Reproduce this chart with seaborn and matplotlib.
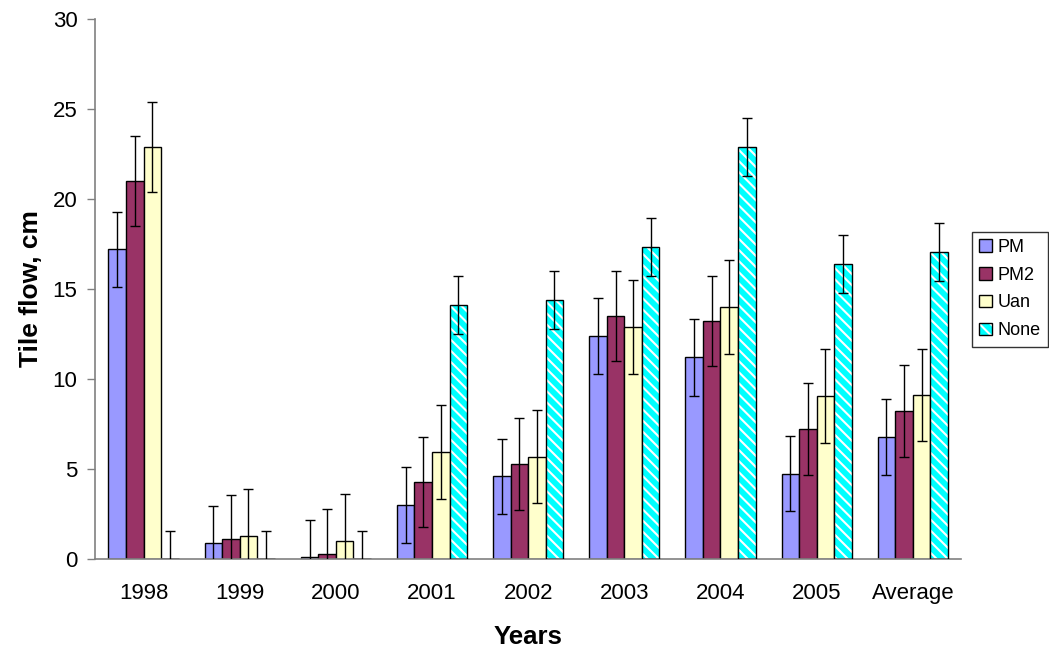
import numpy as np
import pandas as pd
import seaborn as sns
import matplotlib.pyplot as plt
from matplotlib.patches import Rectangle

years = ["1998", "1999", "2000", "2001", "2002", "2003", "2004", "2005", "Average"]
treatments = ["PM", "PM2", "Uan", "None"]

pm = [17.2, 0.9, 0.1, 3.0, 4.6, 12.4, 11.2, 4.75, 6.8]
pm2 = [21.0, 1.1, 0.3, 4.3, 5.3, 13.5, 13.2, 7.25, 8.25]
uan = [22.9, 1.3, 1.0, 5.95, 5.7, 12.9, 14.0, 9.05, 9.1]
none = [0.0, 0.0, 0.0, 14.1, 14.4, 17.35, 22.9, 16.4, 17.05]

pm_err = [2.1, 2.05, 2.1, 2.1, 2.1, 2.1, 2.15, 2.1, 2.1]
pm2_err = [2.5, 2.45, 2.5, 2.5, 2.55, 2.5, 2.5, 2.55, 2.55]
uan_err = [2.5, 2.6, 2.6, 2.6, 2.6, 2.6, 2.6, 2.6, 2.55]
none_err = [1.55, 1.55, 1.55, 1.6, 1.6, 1.6, 1.6, 1.6, 1.6]

colors = ["#9999FF", "#993366", "#FFFFCC", "#00FFFF"]

values = [pm, pm2, uan, none]
errors = [pm_err, pm2_err, uan_err, none_err]
df = pd.DataFrame({
    "Years": np.repeat([years], 4, axis=0).ravel(),
    "Treatment": np.repeat(treatments, len(years)),
    "flow": np.concatenate(values),
    "err": np.concatenate(errors),
})

sns.set_style("white")
plt.rcParams["font.family"] = ["Liberation Sans", "DejaVu Sans"]
plt.rcParams["hatch.linewidth"] = 1.5
plt.rcParams["text.color"] = "black"
plt.rcParams["axes.labelcolor"] = "black"
plt.rcParams["xtick.color"] = "black"
plt.rcParams["ytick.color"] = "black"

fig, ax = plt.subplots(figsize=(10.49, 6.51), dpi=100)
fig.subplots_adjust(left=0.091, right=0.916, top=0.971, bottom=0.141)

sns.barplot(data=df, x="Years", y="flow", hue="Treatment", order=years,
            hue_order=treatments, palette=colors, errorbar=None, width=0.73,
            saturation=1, edgecolor="black", linewidth=1.0, ax=ax)

# bar patches come in hue order, one container per treatment
for cont, errs, name in zip(ax.containers, errors, treatments):
    xs = [p.get_x() + p.get_width() / 2 for p in cont.patches]
    hs = [p.get_height() for p in cont.patches]
    ax.errorbar(xs, hs, yerr=errs, fmt="none", ecolor="black",
                elinewidth=1.0, capsize=3.6, capthick=1.0, zorder=5)
    if name == "None":
        for p in cont.patches:
            p.set_hatch("\\\\\\")
            p.set_edgecolor("white")
            p.set_linewidth(0)
            ax.add_patch(Rectangle((p.get_x(), p.get_y()), p.get_width(),
                                   p.get_height(), fill=False,
                                   edgecolor="black", linewidth=1.0, zorder=3))

ax.set_ylim(0, 30)
ax.set_yticks(range(0, 31, 5))
ax.set_xlim(-0.5, len(years) - 0.5)
ax.set_xticks(np.arange(len(years)))
ax.set_xticks(np.arange(-0.5, len(years), 1), minor=True)
ax.tick_params(axis="x", which="major", length=0, labelsize=16, pad=17)
ax.tick_params(axis="x", which="minor", length=6, width=1, color="#808080",
               direction="out")
ax.tick_params(axis="y", length=6, width=1, color="#808080", labelsize=16,
               direction="out", left=True, labelcolor="black", pad=7)

sns.despine(ax=ax)
for s in ["left", "bottom"]:
    ax.spines[s].set_color("#808080")
    ax.spines[s].set_linewidth(1.2)

ax.set_xlabel("Years", fontsize=18.5, fontweight="bold", labelpad=15)
ax.set_ylabel("Tile flow, cm", fontsize=19, fontweight="bold", labelpad=7)

handles, labels = ax.get_legend_handles_labels()
leg = ax.legend(handles, labels, loc="center left", bbox_to_anchor=(1.013, 0.5),
                frameon=True, fancybox=False, edgecolor="black",
                handlelength=0.7, handleheight=0.7, handletextpad=0.3,
                fontsize=13, borderpad=0.4, labelspacing=0.6, borderaxespad=0)
leg.get_frame().set_linewidth(1.0)
lp = leg.get_patches()[3]
lp.set_hatch("\\\\\\")
lp.set_edgecolor("black")
lp._hatch_color = (1, 1, 1, 1)

fig.savefig("out.png", dpi=100)
